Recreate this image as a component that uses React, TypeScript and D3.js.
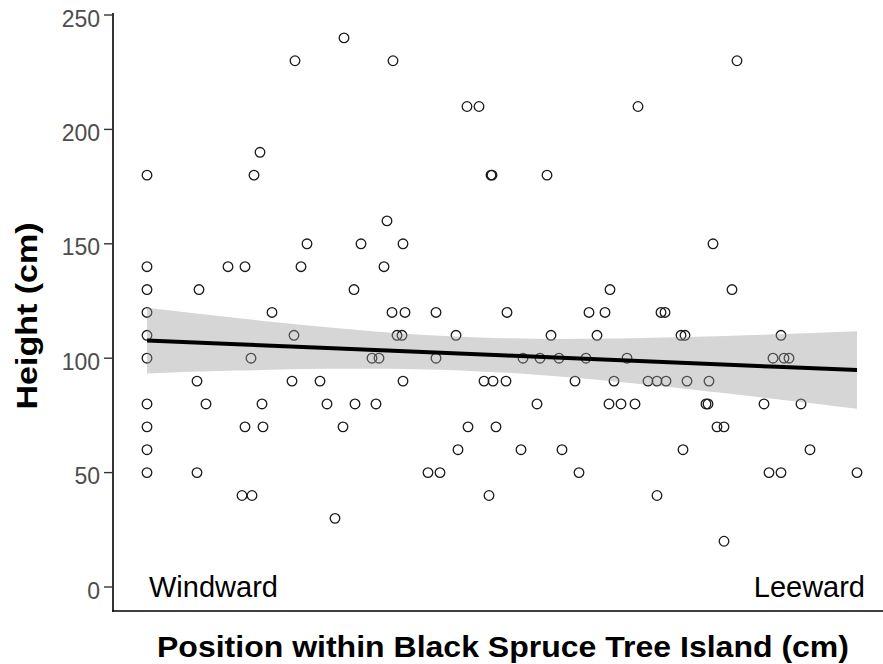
import React from "react";
import * as d3 from "d3";

// Position within the tree island (cm from windward edge) and tree height (cm)
const heightLevels: number[] = [240, 230, 210, 190, 180, 160, 150, 140, 130, 120, 110, 100, 90, 80, 70, 60, 50, 40, 30, 20];
const positionsByLevel: number[][] = [
  [197],
  [148, 246, 590],
  [320, 332, 491],
  [113],
  [0, 107, 344, 345, 400],
  [240],
  [160, 214, 256, 566],
  [0, 81, 98, 154, 237],
  [0, 52, 207, 463, 585],
  [0, 125, 245, 258, 289, 360, 442, 458, 514, 518],
  [0, 147, 250, 255, 309, 404, 450, 534, 538, 634],
  [0, 104, 225, 232, 289, 376, 393, 412, 439, 480, 626, 637, 642],
  [50, 145, 173, 256, 337, 346, 359, 428, 467, 501, 510, 519, 540, 562],
  [0, 59, 115, 180, 208, 229, 390, 462, 474, 488, 559, 561, 617, 654],
  [0, 98, 116, 196, 321, 349, 570, 577],
  [0, 311, 374, 415, 536, 663],
  [0, 50, 281, 293, 432, 622, 634, 710],
  [95, 105, 342, 510],
  [188],
  [577],
];

// Linear fit and its 95% confidence band
const smoothPos: number[] = [0, 90, 180, 270, 360, 450, 540, 630, 710];
const smoothFit: number[] = [107.7, 106.06, 104.43, 102.79, 101.16, 99.52, 97.89, 96.25, 94.8];
const smoothLower: number[] = [93.35, 94.57, 95.35, 95.22, 93.62, 90.53, 86.52, 82.03, 77.86];
const smoothUpper: number[] = [122.05, 117.55, 113.51, 110.36, 108.7, 108.51, 109.26, 110.47, 111.74];

const yTicks: number[] = [0, 50, 100, 150, 200, 250];
const xTitle = "Position within Black Spruce Tree Island (cm)";
const yTitle = "Height (cm)";
const leftLabel = "Windward";
const rightLabel = "Leeward";

const points: { x: number; y: number }[] = [];
heightLevels.forEach((h, i) => positionsByLevel[i].forEach((p) => points.push({ x: p, y: h })));
const smooth = smoothPos.map((p, i) => ({ x: p, fit: smoothFit[i], lo: smoothLower[i], hi: smoothUpper[i] }));

export default function App() {
  const W = 883, H = 664;
  const panelLeft = 113, panelBottom = 611, panelTop = 13;
  const x = d3.scaleLinear().domain([0, 710]).range([147, 857]);
  const y = d3.scaleLinear().domain([0, 250]).range([587, 15]);
  const area = d3.area<any>().x((d) => x(d.x)).y0((d) => y(d.lo)).y1((d) => y(d.hi)).curve(d3.curveNatural);
  const line = d3.line<any>().x((d) => x(d.x)).y((d) => y(d.fit));
  const font = "'Liberation Sans', Arial, Helvetica, sans-serif";

  return (
    <svg width={W} height={H} style={{ position: "absolute", left: 0, top: 0, background: "#fff" }} fontFamily={font}>
      <rect x={0} y={0} width={W} height={H} fill="#fff" />
      {points.map((d, i) => (
        <circle key={i} cx={x(d.x)} cy={y(d.y)} r={4.8} fill="none" stroke="#1a1a1a" strokeWidth={1.3} />
      ))}
      <path d={area(smooth)!} fill="#999999" fillOpacity={0.4} />
      <path d={line(smooth)!} fill="none" stroke="#000" strokeWidth={4} />
      {/* axes */}
      <line x1={panelLeft} x2={panelLeft} y1={panelTop} y2={panelBottom + 0.75} stroke="#000" strokeWidth={1.6} />
      <line x1={panelLeft - 0.8} x2={W} y1={panelBottom} y2={panelBottom} stroke="#000" strokeWidth={1.6} />
      {yTicks.map((t) => (
        <g key={t}>
          <line x1={panelLeft - 9} x2={panelLeft} y1={y(t)} y2={y(t)} stroke="#333" strokeWidth={1.4} />
          <text x={panelLeft - 13} y={y(t) + 11.5} textAnchor="end" fontSize={23} fill="#4d4d4d">{t}</text>
        </g>
      ))}
      <text x={149} y={597} fontSize={29} fill="#000">{leftLabel}</text>
      <text x={865} y={597} fontSize={29} fill="#000" textAnchor="end">{rightLabel}</text>
      <text x={503} y={657} fontSize={29} fontWeight="bold" textAnchor="middle" fill="#000"
        textLength={692} lengthAdjust="spacingAndGlyphs">{xTitle}</text>
      <text transform={`translate(37,316) rotate(-90)`} fontSize={30} fontWeight="bold" textAnchor="middle" fill="#000"
        textLength={187} lengthAdjust="spacingAndGlyphs">{yTitle}</text>
    </svg>
  );
}
